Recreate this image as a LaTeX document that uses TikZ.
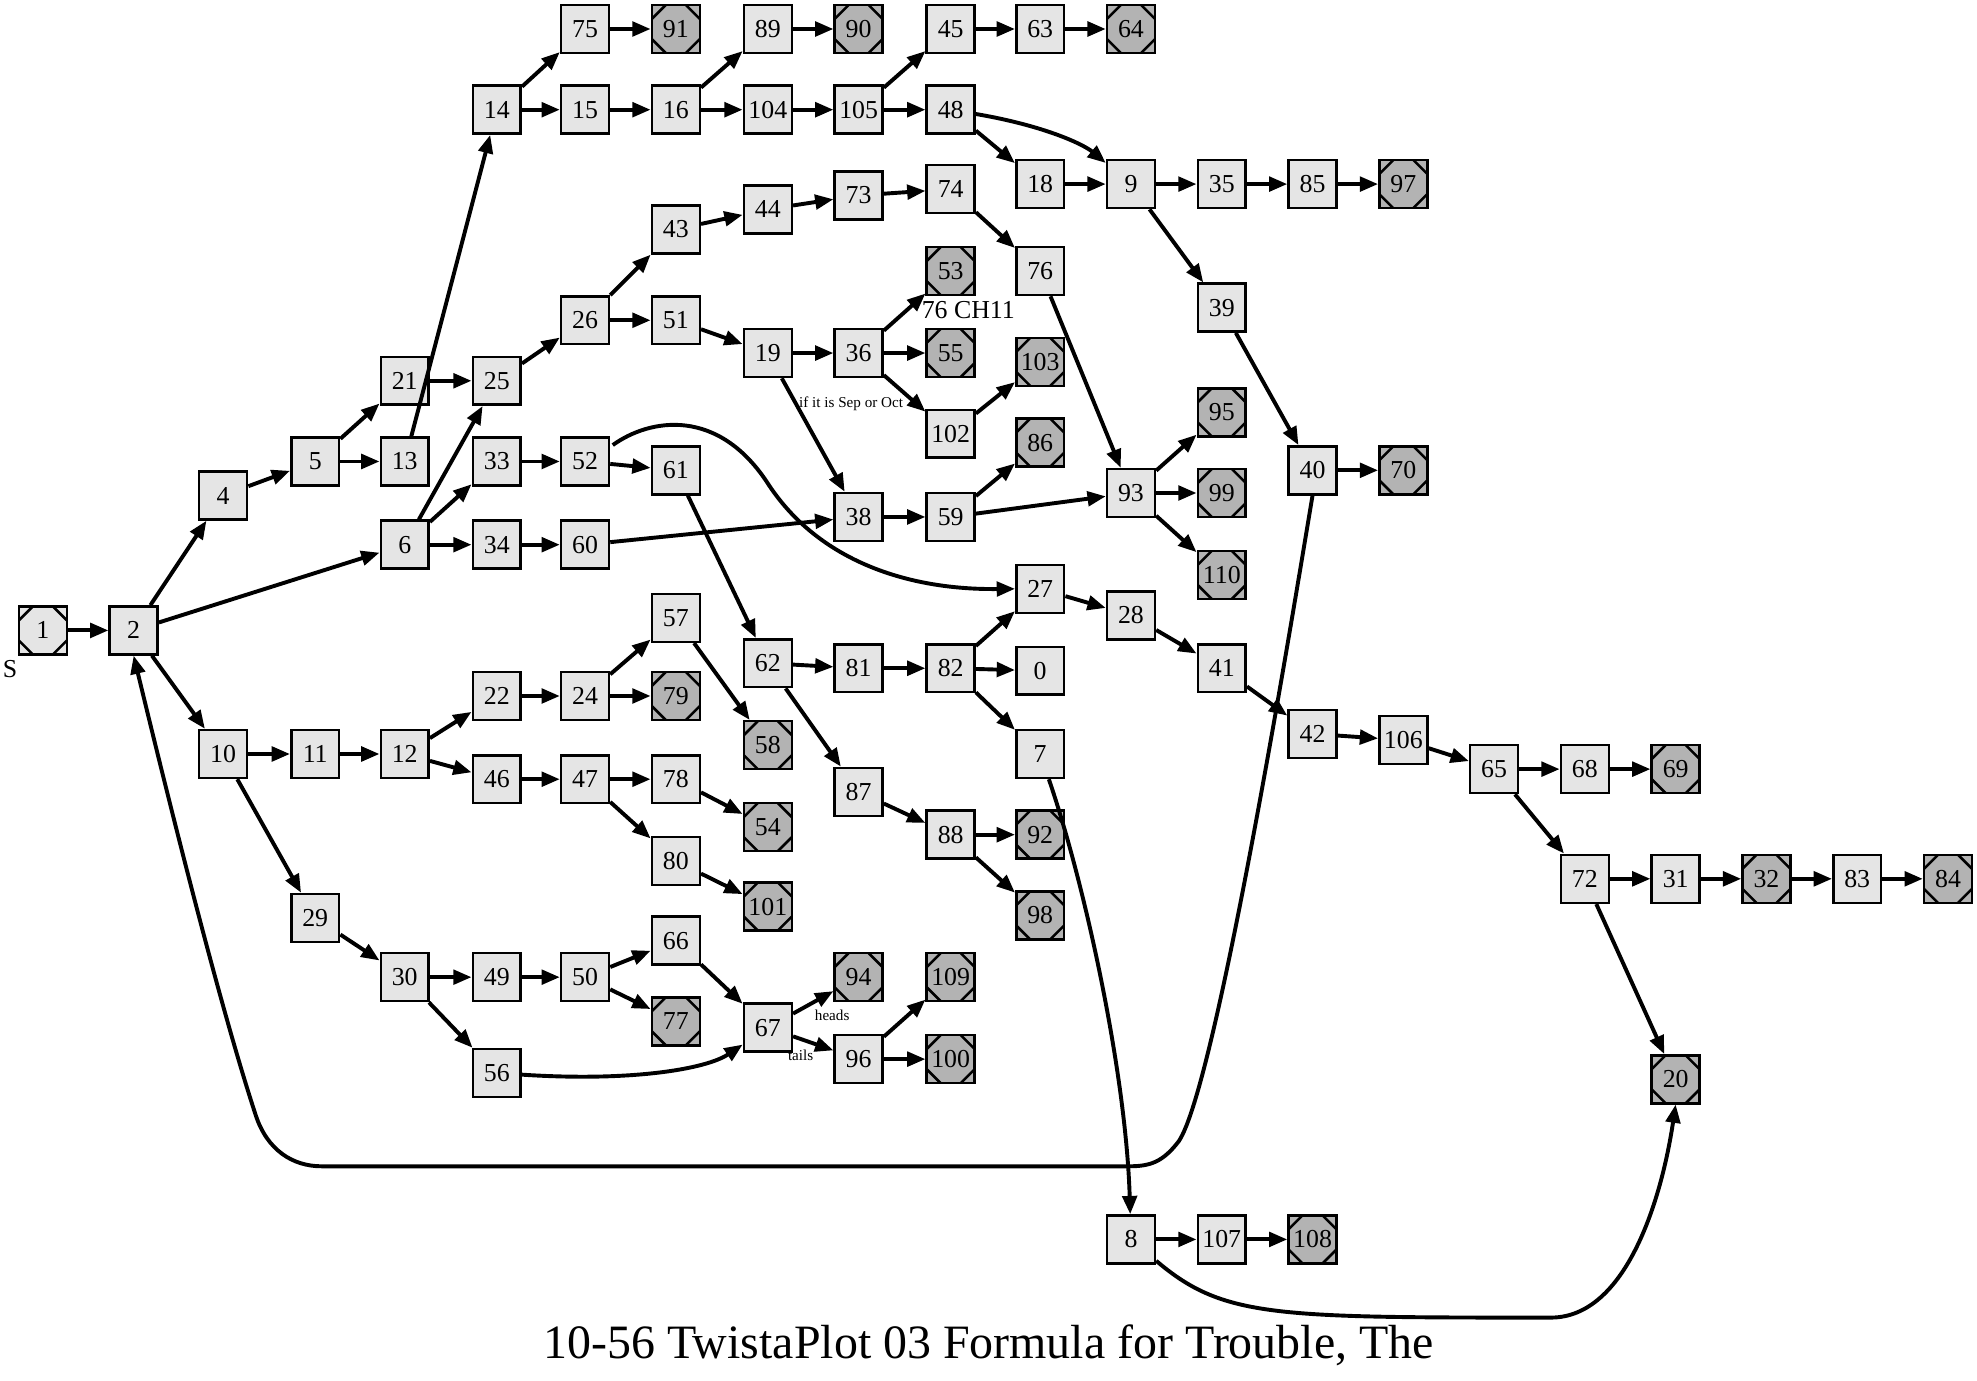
\documentclass[tikz,border=0pt]{standalone}
\usepackage{fontspec}
\setmainfont{Liberation Serif}
\usetikzlibrary{arrows.meta}
\definecolor{nfill}{RGB}{229,229,229}
\definecolor{efill}{RGB}{179,179,179}
\tikzset{
  nbox/.style={draw=black, line width=2pt, fill=nfill, minimum size=38pt, inner sep=0pt, font=\fontsize{20.5}{20.5}\selectfont},
  octlines/.style={path picture={
    \draw[line width=2pt] ([yshift=-11pt]path picture bounding box.north west) -- ([xshift=11pt]path picture bounding box.north west);
    \draw[line width=2pt] ([yshift=-11pt]path picture bounding box.north east) -- ([xshift=-11pt]path picture bounding box.north east);
    \draw[line width=2pt] ([yshift=11pt]path picture bounding box.south west) -- ([xshift=11pt]path picture bounding box.south west);
    \draw[line width=2pt] ([yshift=11pt]path picture bounding box.south east) -- ([xshift=-11pt]path picture bounding box.south east);
  }},
  ebox/.style={nbox, fill=efill, octlines},
  sbox/.style={nbox, octlines},
  edge/.style={line width=3.1pt, -{Triangle[length=14.5pt,width=11.5pt]}},
  smalllab/.style={inner sep=0pt, font=\fontsize{12}{12}\selectfont},
  biglab/.style={inner sep=0pt, font=\fontsize{20.5}{20.5}\selectfont},
}
\begin{document}
\begin{tikzpicture}[x=1pt,y=-1pt]
\useasboundingbox[fill=white] (0,0) rectangle (1568,1095);
% nodes
\node[sbox] (n1) at (34,500) {1};
\node[nbox] (n2) at (106,500) {2};
\node[nbox] (n4) at (177,393) {4};
\node[nbox] (n5) at (250,366) {5};
\node[nbox] (n21) at (321,302) {21};
\node[nbox] (n13) at (321,366) {13};
\node[nbox] (n14) at (394,87) {14};
\node[nbox] (n75) at (464,23) {75};
\node[ebox] (n91) at (536,23) {91};
\node[nbox] (n15) at (464,87) {15};
\node[nbox] (n16) at (536,87) {16};
\node[nbox] (n89) at (609,23) {89};
\node[ebox] (n90) at (681,23) {90};
\node[nbox] (n104) at (609,87) {104};
\node[nbox] (n105) at (681,87) {105};
\node[nbox] (n45) at (754,23) {45};
\node[nbox] (n63) at (825,23) {63};
\node[ebox] (n64) at (897,23) {64};
\node[nbox] (n48) at (754,87) {48};
\node[nbox] (n18) at (825,146) {18};
\node[nbox] (n9) at (897,146) {9};
\node[nbox] (n35) at (969,146) {35};
\node[nbox] (n85) at (1041,146) {85};
\node[ebox] (n97) at (1113,146) {97};
\node[nbox] (n39) at (969,244) {39};
\node[nbox] (n40) at (1041,373) {40};
\node[ebox] (n70) at (1113,373) {70};
\node[nbox] (n25) at (394,302) {25};
\node[nbox] (n26) at (464,254) {26};
\node[nbox] (n43) at (536,182) {43};
\node[nbox] (n44) at (609,166) {44};
\node[nbox] (n73) at (681,155) {73};
\node[nbox] (n74) at (754,150) {74};
\node[nbox] (n76) at (825,215) {76};
\node[nbox] (n51) at (536,254) {51};
\node[nbox] (n19) at (609,280) {19};
\node[nbox] (n36) at (681,280) {36};
\node[ebox] (n53) at (754,215) {53};
\node[ebox] (n55) at (754,280) {55};
\node[nbox] (n102) at (754,344) {102};
\node[ebox] (n103) at (825,287) {103};
\node[ebox] (n86) at (825,351) {86};
\node[nbox] (n59) at (754,410) {59};
\node[nbox] (n38) at (681,410) {38};
\node[nbox] (n93) at (897,391) {93};
\node[ebox] (n95) at (969,327) {95};
\node[ebox] (n99) at (969,391) {99};
\node[ebox] (n110) at (969,456) {110};
\node[nbox] (n6) at (321,432) {6};
\node[nbox] (n33) at (394,366) {33};
\node[nbox] (n52) at (464,366) {52};
\node[nbox] (n61) at (536,373) {61};
\node[nbox] (n34) at (394,432) {34};
\node[nbox] (n60) at (464,432) {60};
\node[nbox] (n27) at (825,467) {27};
\node[nbox] (n28) at (897,488) {28};
\node[nbox] (n41) at (969,530) {41};
\node[nbox] (n42) at (1041,582) {42};
\node[nbox] (n106) at (1113,587) {106};
\node[nbox] (n65) at (1185,610) {65};
\node[nbox] (n68) at (1257,610) {68};
\node[ebox] (n69) at (1329,610) {69};
\node[nbox] (n72) at (1257,697) {72};
\node[nbox] (n31) at (1329,697) {31};
\node[ebox] (n32) at (1401,697) {32};
\node[nbox] (n83) at (1473,697) {83};
\node[ebox] (n84) at (1545,697) {84};
\node[ebox] (n20) at (1329,856) {20};
\node[nbox] (n62) at (609,526) {62};
\node[nbox] (n81) at (681,530) {81};
\node[nbox] (n82) at (754,530) {82};
\node[nbox] (n0) at (825,532) {0};
\node[nbox] (n7) at (825,598) {7};
\node[nbox] (n8) at (897,983) {8};
\node[nbox] (n107) at (969,983) {107};
\node[ebox] (n108) at (1041,983) {108};
\node[nbox] (n87) at (681,628) {87};
\node[nbox] (n88) at (754,662) {88};
\node[ebox] (n92) at (825,662) {92};
\node[ebox] (n98) at (825,726) {98};
\node[nbox] (n10) at (177,598) {10};
\node[nbox] (n11) at (250,598) {11};
\node[nbox] (n12) at (321,598) {12};
\node[nbox] (n22) at (394,552) {22};
\node[nbox] (n24) at (464,552) {24};
\node[nbox] (n57) at (536,490) {57};
\node[ebox] (n79) at (536,552) {79};
\node[ebox] (n58) at (609,591) {58};
\node[nbox] (n46) at (394,618) {46};
\node[nbox] (n47) at (464,618) {47};
\node[nbox] (n78) at (536,618) {78};
\node[nbox] (n80) at (536,683) {80};
\node[ebox] (n54) at (609,656) {54};
\node[ebox] (n101) at (609,719) {101};
\node[nbox] (n29) at (250,728) {29};
\node[nbox] (n30) at (321,775) {30};
\node[nbox] (n49) at (394,775) {49};
\node[nbox] (n50) at (464,775) {50};
\node[nbox] (n66) at (536,746) {66};
\node[ebox] (n77) at (536,810) {77};
\node[nbox] (n56) at (394,851) {56};
\node[nbox] (n67) at (609,815) {67};
\node[ebox] (n94) at (681,775) {94};
\node[nbox] (n96) at (681,840) {96};
\node[ebox] (n109) at (754,775) {109};
\node[ebox] (n100) at (754,840) {100};
% labels
\node[biglab] (ls) at (8,531) {S};
\node[biglab] (l53) at (768,246) {76 CH11};
\node[smalllab] (lsep) at (675,320) {if it is Sep or Oct};
\node[smalllab] (lheads) at (660,805) {heads};
\node[smalllab] (ltails) at (635,837) {tails};
\node[inner sep=0pt, font=\fontsize{38}{38}\selectfont] (title) at (784,1067) {10-56 TwistaPlot 03 Formula for Trouble, The};
% edges
\foreach \a/\b in {1/2,2/4,2/6,2/10,4/5,5/21,5/13,21/25,13/14,14/75,14/15,75/91,15/16,16/89,16/104,89/90,104/105,105/45,105/48,45/63,63/64,48/18,18/9,9/35,9/39,35/85,85/97,39/40,40/70,6/25,6/33,6/34,25/26,26/43,26/51,43/44,44/73,73/74,74/76,76/93,51/19,19/36,19/38,36/53,36/55,36/102,102/103,38/59,59/86,59/93,93/95,93/99,93/110,33/52,52/61,61/62,34/60,60/38,27/28,28/41,41/42,42/106,106/65,65/68,65/72,68/69,72/31,72/20,31/32,32/83,83/84,62/81,62/87,81/82,82/27,82/0,82/7,8/107,107/108,87/88,88/92,88/98,10/11,10/29,11/12,12/22,12/46,22/24,24/57,24/79,57/58,46/47,47/78,47/80,78/54,80/101,29/30,30/49,30/56,49/50,50/66,50/77,66/67,67/94,67/96,96/109,96/100}
  \draw[edge] (n\a) -- (n\b);
% curved edges
\draw[edge] (n48) .. controls (830,100) and (860,115) .. (n9);
\draw[edge] (486,353) .. controls (515,332) and (570,322) .. (610,385) .. controls (650,445) and (720,468) .. (n27.west);
\draw[edge] (n56) .. controls (500,858) and (560,848) .. (n67);
\draw[edge] (n7) .. controls (860,700) and (893,850) .. (n8);
\draw[edge] (n8) .. controls (970,1045) and (1010,1045) .. (1230,1045) .. controls (1290,1045) and (1318,950) .. (n20.south);
\draw[edge] (n40.south) .. controls (1028,470) and (965,860) .. (935,905) .. controls (922,922) and (912,925) .. (895,925) -- (255,925) .. controls (232,925) and (212,912) .. (203,885) .. controls (175,800) and (135,640) .. (n2.south);
\end{tikzpicture}
\end{document}
